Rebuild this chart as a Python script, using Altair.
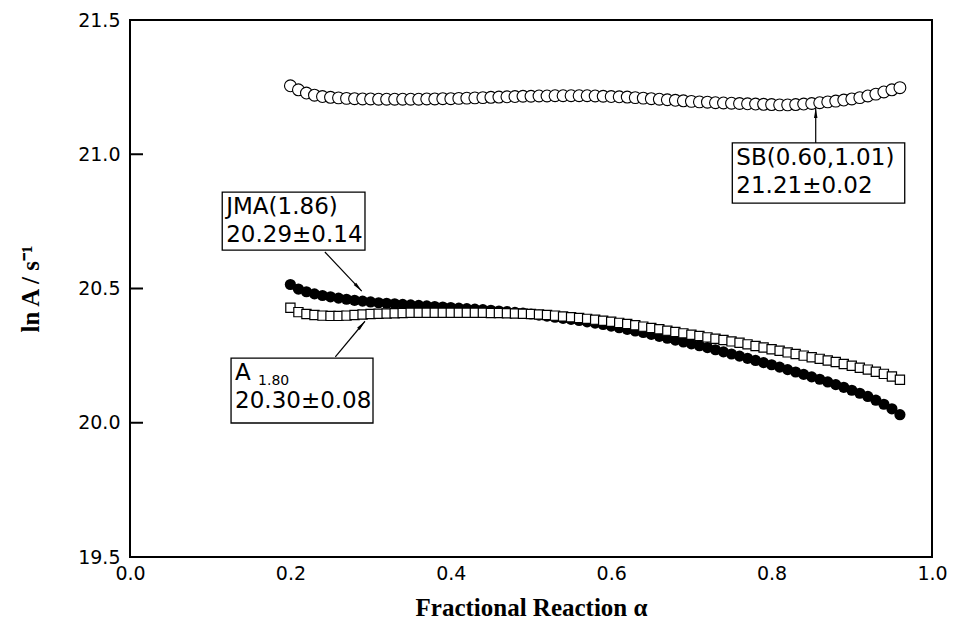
import altair as alt
import pandas as pd

# ---------------- data ----------------
alpha = [round(0.20 + 0.01 * i, 2) for i in range(77)]  # 0.20 ... 0.96

sb_vals = [
    21.255, 21.240, 21.228, 21.220, 21.215, 21.212, 21.210, 21.208, 21.207, 21.206,
    21.206, 21.205, 21.205, 21.205, 21.205, 21.205, 21.205, 21.206, 21.206, 21.207,
    21.207, 21.208, 21.209, 21.210, 21.211, 21.212, 21.213, 21.214, 21.215, 21.216,
    21.216, 21.217, 21.217, 21.218, 21.218, 21.218, 21.218, 21.218, 21.217, 21.216,
    21.215, 21.214, 21.213, 21.211, 21.209, 21.207, 21.205, 21.203, 21.201, 21.199,
    21.197, 21.195, 21.194, 21.192, 21.191, 21.190, 21.189, 21.188, 21.187, 21.186,
    21.185, 21.184, 21.184, 21.185, 21.187, 21.189, 21.192, 21.195, 21.198, 21.202,
    21.206, 21.211, 21.217, 21.224, 21.232, 21.240, 21.248,
]

jma_vals = [
    20.515, 20.498, 20.488, 20.480, 20.474, 20.469, 20.464, 20.460, 20.456, 20.453,
    20.450, 20.447, 20.445, 20.443, 20.441, 20.439, 20.437, 20.435, 20.433, 20.431,
    20.429, 20.427, 20.425, 20.423, 20.421, 20.419, 20.416, 20.414, 20.411, 20.408,
    20.405, 20.401, 20.397, 20.393, 20.389, 20.385, 20.381, 20.376, 20.371, 20.366,
    20.360, 20.354, 20.348, 20.342, 20.336, 20.329, 20.322, 20.315, 20.308, 20.301,
    20.294, 20.287, 20.280, 20.272, 20.264, 20.256, 20.248, 20.240, 20.232, 20.224,
    20.216, 20.207, 20.198, 20.189, 20.180, 20.171, 20.162, 20.152, 20.142, 20.132,
    20.121, 20.110, 20.098, 20.084, 20.069, 20.052, 20.030,
]

a180_vals = [
    20.428, 20.412, 20.405, 20.401, 20.399, 20.398, 20.398, 20.399, 20.401, 20.403,
    20.405, 20.406, 20.407, 20.408, 20.409, 20.410, 20.410, 20.410, 20.410, 20.410,
    20.410, 20.410, 20.410, 20.410, 20.410, 20.409, 20.409, 20.408, 20.407, 20.406,
    20.405, 20.403, 20.401, 20.399, 20.396, 20.393, 20.390, 20.387, 20.384, 20.380,
    20.376, 20.372, 20.368, 20.363, 20.358, 20.353, 20.348, 20.343, 20.338, 20.333,
    20.328, 20.323, 20.318, 20.313, 20.308, 20.303, 20.298, 20.292, 20.286, 20.280,
    20.274, 20.268, 20.262, 20.256, 20.250, 20.244, 20.238, 20.232, 20.226, 20.219,
    20.212, 20.205, 20.198, 20.190, 20.182, 20.172, 20.160,
]

x_ticks = [0.0, 0.2, 0.4, 0.6, 0.8, 1.0]
y_ticks = [19.5, 20.0, 20.5, 21.0, 21.5]
inner_ticks = [20.0, 20.5, 21.0]

ann_line1 = ["JMA(1.86)", "A", "SB(0.60,1.01)"]
ann_sub = ["", "1.80", ""]
ann_line2 = ["20.29\u00b10.14", "20.30\u00b10.08", "21.21\u00b10.02"]

# annotation geometry (data units)
box_x0 = [0.115, 0.126, 0.751]
box_x1 = [0.293, 0.303, 0.966]
box_ytop = [20.859, 20.241, 21.042]
box_ybot = [20.643, 19.999, 20.818]
arr_x0 = [0.243, 0.256, 0.855]
arr_y0 = [20.636, 20.245, 21.042]
arr_x1 = [0.289, 0.293, 0.855]
arr_y1 = [20.490, 20.378, 21.172]
arr_angle = [137, 41, 0]

# ---------------- build ----------------
df_sb = pd.DataFrame({"alpha": alpha, "lnA": sb_vals})
df_jma = pd.DataFrame({"alpha": alpha, "lnA": jma_vals})
df_a = pd.DataFrame({"alpha": alpha, "lnA": a180_vals})
df_ann = pd.DataFrame({
    "x0": box_x0, "x1": box_x1, "yt": box_ytop, "yb": box_ybot,
    "l1": ann_line1, "sub": ann_sub, "l2": ann_line2,
    "ax": arr_x0, "ay": arr_y0, "bx": arr_x1, "by": arr_y1, "ang": arr_angle,
})
df_ticks = pd.DataFrame({"v": inner_ticks})

xs = alt.Scale(domain=[0, 1], nice=False, zero=False)
ys = alt.Scale(domain=[19.5, 21.5], nice=False, zero=False)

common_axis = dict(
    ticks=False, domain=False, grid=False, labelFlush=False,
    labelFont="DejaVu Sans", labelFontSize=19, labelColor="black",
    titleFont="Liberation Serif", titleFontWeight="bold", titleFontSize=25,
    titleColor="black",
)

X = alt.X("alpha:Q", scale=xs, title="Fractional Reaction \u03b1",
          axis=alt.Axis(values=x_ticks, format=".1f", labelPadding=7,
                        titlePadding=12, **common_axis))
Y = alt.Y("lnA:Q", scale=ys, title="ln A / s\u207b\u00b9",
          axis=alt.Axis(values=y_ticks, format=".1f", labelPadding=10,
                        titlePadding=34, **common_axis))

jma = alt.Chart(df_jma).mark_point(shape="circle", filled=True, color="black",
                                   size=125, opacity=1).encode(x=X, y=Y)
a180 = alt.Chart(df_a).mark_point(shape="square", filled=True, fill="white",
                                  stroke="black", strokeWidth=1.2, size=85,
                                  opacity=1).encode(x="alpha:Q", y="lnA:Q")
sb = alt.Chart(df_sb).mark_point(shape="circle", filled=True, fill="white",
                                 stroke="black", strokeWidth=1.1, size=140,
                                 opacity=1).encode(x="alpha:Q", y="lnA:Q")

ticks = alt.Chart(df_ticks).mark_rule(color="black", strokeWidth=2).encode(
    y="v:Q", x=alt.value(0), x2=alt.value(13))

ann = alt.Chart(df_ann)
boxes = ann.mark_rect(fill="white", stroke="black", strokeWidth=1.3).encode(
    x="x0:Q", x2="x1:Q", y="yt:Q", y2="yb:Q")
line1 = ann.mark_text(align="left", baseline="top", dx=4, dy=4,
                      font="DejaVu Sans", fontSize=23, color="black").encode(
    x="x0:Q", y="yt:Q", text="l1:N")
subt = ann.mark_text(align="left", baseline="top", dx=27, dy=16,
                     font="DejaVu Sans", fontSize=14, color="black").encode(
    x="x0:Q", y="yt:Q", text="sub:N")
line2 = ann.mark_text(align="left", baseline="top", dx=4, dy=32,
                      font="DejaVu Sans", fontSize=23, color="black").encode(
    x="x0:Q", y="yt:Q", text="l2:N")
arrows = ann.mark_rule(color="black", strokeWidth=1.2).encode(
    x="ax:Q", y="ay:Q", x2="bx:Q", y2="by:Q")
heads = ann.mark_point(shape="M0,0L-0.35,2L0.35,2Z", filled=True, color="black",
                       size=100, opacity=1).encode(
    x="bx:Q", y="by:Q", angle=alt.Angle("ang:Q", scale=None))

chart = alt.layer(jma, a180, sb, ticks, boxes, line1, subt, line2, arrows, heads).properties(
    width=802, height=537,
    autosize=alt.AutoSizeParams(type="none"),
    padding={"left": 122, "top": 12, "right": 19, "bottom": 62},
    background="white",
).configure_view(stroke="black", strokeWidth=2)

chart.save("out.html", embed_options={"renderer": "svg", "actions": False})
